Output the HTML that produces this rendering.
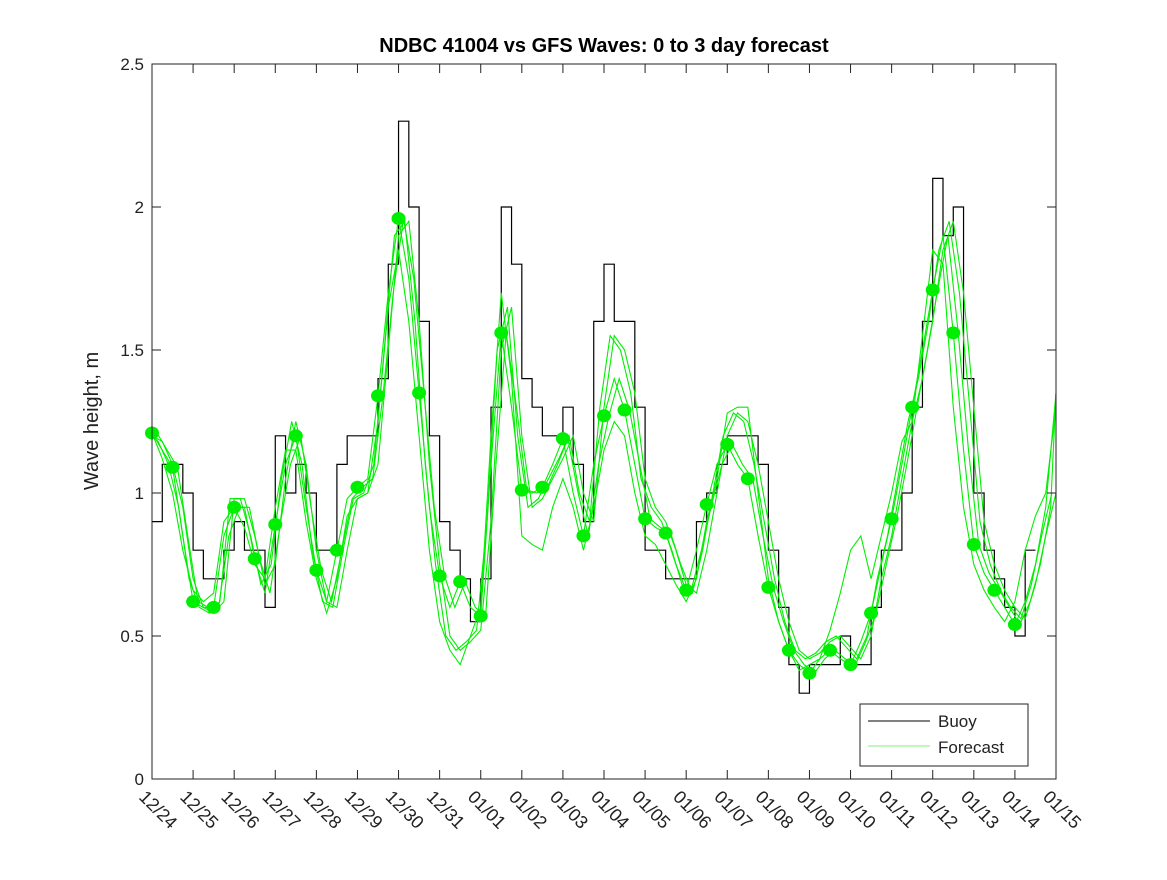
<!DOCTYPE html>
<html><head><meta charset="utf-8"><style>
body{margin:0;background:#fff;}
text{font-family:"Liberation Sans","DejaVu Sans",sans-serif;}
</style></head><body>
<svg id="chart" width="1167" height="875" xmlns="http://www.w3.org/2000/svg">
<rect width="1167" height="875" fill="#fff"/>
<text x="604" y="52" text-anchor="middle" font-size="20" font-weight="bold" fill="#000">NDBC 41004 vs GFS Waves: 0 to 3 day forecast</text>
<text transform="translate(98,421) rotate(-90)" text-anchor="middle" font-size="20" fill="#222">Wave height, m</text>
<g id="plot"></g>
<g id="axes"></g>
<g>
<rect x="860" y="704" width="168" height="62" fill="#fff" stroke="#222" stroke-width="1"/>
<line x1="868" y1="721" x2="930" y2="721" stroke="#000" stroke-width="1"/>
<text x="938" y="727" font-size="17" fill="#222">Buoy</text>
<line x1="868" y1="746" x2="930" y2="746" stroke="#00e000" stroke-width="0.6"/>
<text x="938" y="753" font-size="17" fill="#222">Forecast</text>
</g>
</svg>
<script>
const dayLabels=["12/24","12/25","12/26","12/27","12/28","12/29","12/30","12/31","01/01","01/02","01/03","01/04","01/05","01/06","01/07","01/08","01/09","01/10","01/11","01/12","01/13","01/14","01/15"];
const yTicks=[0,0.5,1,1.5,2,2.5];
const yTickLabels=["0","0.5","1","1.5","2","2.5"];
const stepDays=0.25;
const buoy=[0.9,1.1,1.1,1.0,0.8,0.7,0.7,0.8,0.9,0.8,0.8,0.6,1.2,1.0,1.1,1.0,0.8,0.8,1.1,1.2,1.2,1.2,1.4,1.8,2.3,2.0,1.6,1.2,0.9,0.8,0.7,0.55,0.7,1.3,2.0,1.8,1.4,1.3,1.2,1.2,1.3,1.1,0.9,1.6,1.8,1.6,1.6,1.3,0.8,0.8,0.7,0.7,0.7,0.9,1.0,1.1,1.2,1.2,1.2,1.1,0.8,0.6,0.4,0.3,0.4,0.4,0.4,0.5,0.4,0.4,0.6,0.8,0.8,1.0,1.3,1.6,2.1,1.9,2.0,1.4,1.0,0.8,0.7,0.6,0.5,0.8];
const fc1=[1.21,1.15,1.09,0.85,0.62,0.6,0.6,0.85,0.95,0.95,0.77,0.65,0.89,1.1,1.2,0.95,0.73,0.62,0.8,0.98,1.02,1.05,1.34,1.7,1.96,1.75,1.35,0.95,0.71,0.6,0.69,0.6,0.57,1.1,1.56,1.3,1.01,1.0,1.02,1.1,1.19,1.0,0.85,1.1,1.27,1.4,1.29,1.1,0.91,0.88,0.86,0.75,0.66,0.8,0.96,1.1,1.17,1.1,1.05,0.85,0.67,0.55,0.45,0.4,0.37,0.42,0.45,0.42,0.4,0.48,0.58,0.75,0.91,1.1,1.3,1.5,1.71,1.9,1.56,1.15,0.82,0.72,0.66,0.6,0.54,0.62,0.75,0.95,1.35];
const fc2=[1.2,1.18,1.1,0.95,0.7,0.6,0.58,0.62,0.98,0.98,0.85,0.68,0.75,1.05,1.25,1.1,0.8,0.62,0.6,0.8,0.98,1.0,1.1,1.5,1.9,1.95,1.6,1.1,0.75,0.5,0.45,0.48,0.52,0.9,1.5,1.65,1.2,0.95,0.98,1.05,1.12,1.2,1.0,0.9,1.3,1.55,1.5,1.35,1.05,0.95,0.9,0.8,0.68,0.65,0.8,1.0,1.2,1.28,1.25,1.1,0.9,0.7,0.55,0.45,0.42,0.44,0.48,0.5,0.46,0.42,0.5,0.7,0.85,1.05,1.25,1.4,1.6,1.85,1.95,1.7,1.3,0.9,0.75,0.66,0.6,0.56,0.68,0.85,1.0];
const fc3=[1.21,1.12,1.0,0.8,0.66,0.62,0.65,0.9,0.95,0.88,0.75,0.7,0.95,1.15,1.15,0.9,0.7,0.58,0.7,0.92,0.98,1.0,1.25,1.65,1.85,1.6,1.2,0.8,0.55,0.45,0.4,0.5,0.6,1.2,1.7,1.4,0.85,0.82,0.8,0.95,1.05,0.95,0.8,0.95,1.15,1.25,1.2,1.0,0.85,0.82,0.75,0.68,0.62,0.7,0.9,1.05,1.28,1.3,1.3,1.0,0.7,0.55,0.45,0.38,0.4,0.42,0.52,0.65,0.8,0.85,0.7,0.85,1.0,1.18,1.25,1.55,1.85,1.8,1.3,0.95,0.75,0.66,0.6,0.55,0.62,0.8,0.92,1.0,1.3];
const fcRuns=[fc1,fc2,fc3,fc1,fc2];
const fcLagDays=[0,0,0,0.12,-0.1];
const dots=[1.21,1.09,0.62,0.60,0.95,0.77,0.89,1.20,0.73,0.80,1.02,1.34,1.96,1.35,0.71,0.69,0.57,1.56,1.01,1.02,1.19,0.85,1.27,1.29,0.91,0.86,0.66,0.96,1.17,1.05,0.67,0.45,0.37,0.45,0.40,0.58,0.91,1.30,1.71,1.56,0.82,0.66,0.54];
const X0=152,X1=1056,Y0=779,Y1=64,NDAYS=22,YMAX=2.5;
const xs=d=>Math.min(X1,Math.max(X0,X0+d*(X1-X0)/NDAYS));
const ys=v=>Y0-v*(Y0-Y1)/YMAX;
const NS="http://www.w3.org/2000/svg";
const plot=document.getElementById('plot'),axes=document.getElementById('axes');
function mk(tag,attrs,parent){const e=document.createElementNS(NS,tag);for(const k in attrs)e.setAttribute(k,attrs[k]);parent.appendChild(e);return e;}
let d="";buoy.forEach((v,i)=>{const x=xs(i*stepDays),x2=xs((i+1)*stepDays),y=ys(v);d+=(i?"L":"M")+x+","+y+"L"+x2+","+y;});
const bp=mk('path',{d:d,fill:'none',stroke:'#000','stroke-width':1.2},plot);


fcRuns.forEach((arr,k)=>{
 const lag=fcLagDays[k];
 const pd=arr.map((v,i)=>(i?"L":"M")+xs(i*stepDays+lag)+","+ys(v)).join("");
 const p=mk('path',{d:pd,fill:'none',stroke:'#00ee00','stroke-width':1.1},plot);
 
 
});
dots.forEach((v,i)=>{
 const c=mk('ellipse',{cx:xs(i*0.5),cy:ys(v),rx:7,ry:6.5,fill:'#00ee00'},plot);
 
 
});
const box=mk('rect',{x:X0,y:Y1,width:X1-X0,height:Y0-Y1,fill:'none',stroke:'#222','stroke-width':1},axes);


yTicks.forEach((v,i)=>{
 const y=ys(v);
 mk('line',{x1:X0,y1:y,x2:X0+9,y2:y,stroke:'#222'},axes);
 mk('line',{x1:X1,y1:y,x2:X1-9,y2:y,stroke:'#222'},axes);
 const t=mk('text',{x:X0-8,y:y+6,'text-anchor':'end','font-size':17,fill:'#222'},axes);
 t.textContent=yTickLabels[i];
 
 
});
dayLabels.forEach((lab,i)=>{
 const x=xs(i);
 mk('line',{x1:x,y1:Y0,x2:x,y2:Y0-9,stroke:'#222'},axes);
 mk('line',{x1:x,y1:Y1,x2:x,y2:Y1+9,stroke:'#222'},axes);
 const t=mk('text',{transform:'translate('+(x-14)+',798) rotate(45)','font-size':18,fill:'#222'},axes);
 t.textContent=lab;
 
 
});
</script>
</body></html>
